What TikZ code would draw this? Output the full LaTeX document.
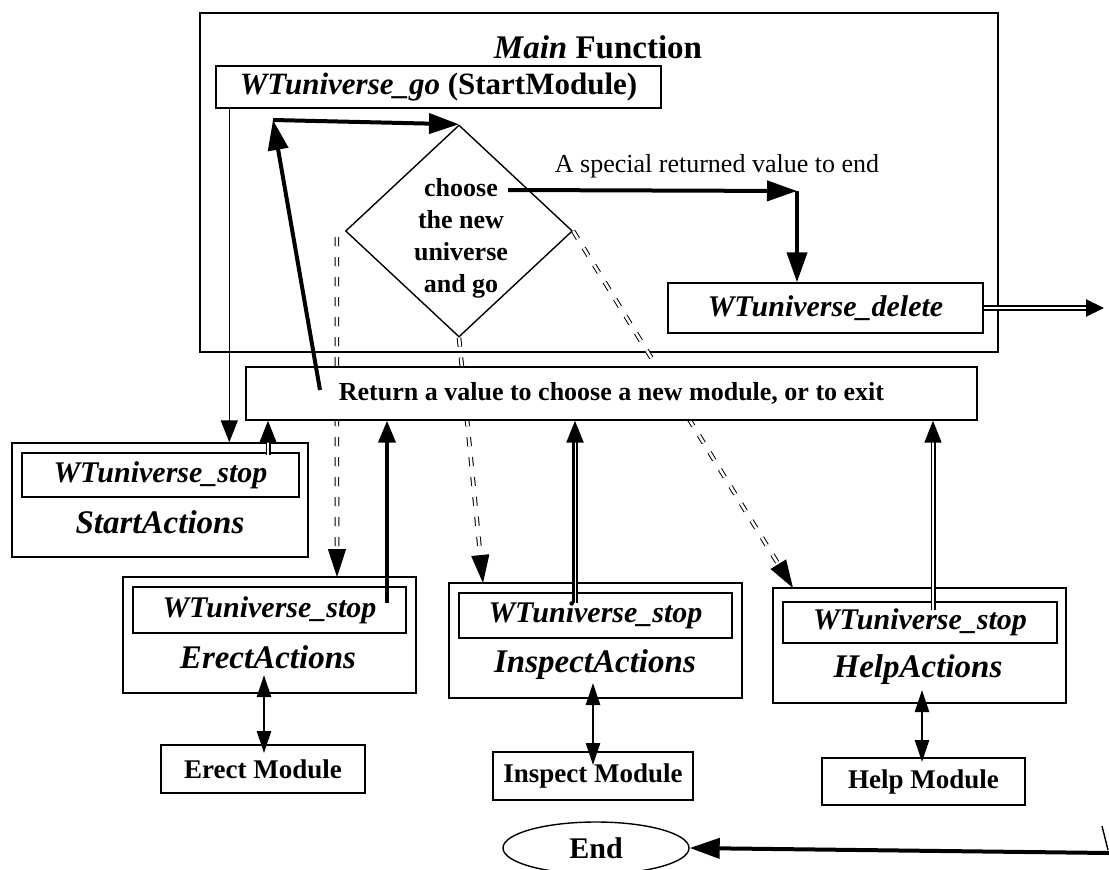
\documentclass[tikz,border=0pt]{standalone}
\usepackage{fontspec}
\setmainfont{Liberation Serif}
\usetikzlibrary{arrows.meta,shapes.geometric,calc}
\newcommand\fsz[2]{\fontsize{#1}{#2}\selectfont}
\begin{document}
\begin{tikzpicture}[x=1pt,y=-1pt,
  box/.style={draw, line width=1.4pt, inner sep=0pt, align=center},
  lbl/.style={inner sep=0pt, anchor=base},
  conn/.style={line width=1.4pt},
  thickconn/.style={line width=4pt},
  dbl/.style={double=white, double distance=1.8pt, line width=1.6pt},
  dashdbl/.style={double=white, double distance=2.6pt, line width=1pt, dash pattern=on 9pt off 11pt},
  tipS/.style={-{Triangle[length=22pt,width=17pt]}},
  tipD/.style={-{Triangle[length=28pt,width=18pt]}},
  tipL/.style={-{Triangle[length=30pt,width=20pt]}},
  tipB/.style={{Triangle[length=22pt,width=14pt]}-{Triangle[length=22pt,width=14pt]}},
  stopf/.style={font=\fsz{30}{34}\bfseries\itshape},
  actf/.style={font=\fsz{33}{36}\bfseries\itshape},
  modf/.style={font=\fsz{27}{30}\bfseries},
]
\useasboundingbox (0,0) rectangle (1109,870);

% Main function frame
\node[box, minimum width=798pt, minimum height=339pt] (main) at (599,182.5) {};
\node[lbl, font=\fsz{33}{36}\bfseries] (mainlbl) at (598,58) {\itshape Main \upshape Function};
\node[box, minimum width=445pt, minimum height=42pt, font=\fsz{31}{34}\bfseries] (go) at (438.5,87) {\itshape WTuniverse\_go\upshape{} (StartModule)};

% decision diamond
\node[draw, diamond, line width=1.4pt, minimum width=227pt, minimum height=212pt, inner sep=0pt] (dia) at (459,231) {};
\node[align=center, inner sep=0pt, font=\fsz{26}{32}\bfseries] (diatxt) at (461,238) {choose\\the new\\universe\\and go};

\node[lbl, font=\fsz{26}{30}] (spec) at (717,172) {A special returned value to end};
\node[box, minimum width=315pt, minimum height=50pt, font=\fsz{30}{34}\bfseries\itshape] (del) at (825.5,308) {WTuniverse\_delete};

% action boxes
\node[box, minimum width=296pt, minimum height=114pt] (stout) at (160,500) {};
\node[box, minimum width=277pt, minimum height=44pt, stopf] (stin) at (160.5,475) {WTuniverse\_stop};
\node[lbl, actf] (stlbl) at (160,533) {StartActions};

\node[box, minimum width=293pt, minimum height=116pt] (erout) at (269.5,635) {};
\node[box, minimum width=273pt, minimum height=46pt, stopf] (erin) at (269.5,610) {WTuniverse\_stop};
\node[lbl, actf] (erlbl) at (268,668) {ErectActions};

\node[box, minimum width=293pt, minimum height=115pt] (inout) at (595.5,640.5) {};
\node[box, minimum width=273pt, minimum height=45pt, stopf] (inin) at (595.5,615.5) {WTuniverse\_stop};
\node[lbl, actf] (inlbl) at (595,672) {InspectActions};

\node[box, minimum width=293pt, minimum height=115pt] (heout) at (919.5,645.5) {};
\node[box, minimum width=274pt, minimum height=41pt, stopf] (hein) at (920,622.5) {WTuniverse\_stop};
\node[lbl, actf] (helbl) at (918,677) {HelpActions};

% module boxes
\node[box, minimum width=204pt, minimum height=48pt, modf] (ermod) at (263,769) {Erect Module};
\node[box, minimum width=200pt, minimum height=48pt, modf] (inmod) at (593,776) {Inspect Module};
\node[box, minimum width=203pt, minimum height=47pt, modf] (hemod) at (923.5,781.5) {Help Module};

\node[draw, ellipse, line width=1.4pt, minimum width=186pt, minimum height=52pt, inner sep=0pt, font=\fsz{30}{34}\bfseries] (end) at (596,848) {End};

% dashed double connectors from the diamond
\coordinate (dl0) at ($(dia.west)+(-8,6)$);
\coordinate (dl1) at (337,577);
\draw[dashdbl, tipD] (dl0) -- (dl1);
\coordinate (dm1) at (483,583);
\draw[dashdbl, tipD] (dia.south) -- (dm1);
\coordinate (dr1) at (793,588);
\draw[dashdbl, tipD] (dia.east) -- (dr1);

% return box (covers the dashed lines)
\node[box, fill=white, minimum width=731pt, minimum height=53pt, font=\fsz{26}{30}\bfseries] (ret) at (611.5,393.5) {Return a value to choose a new module, or to exit};

% loop back to the diamond
\coordinate (rc) at (320,390);
\coordinate (corner) at (273,120);
\draw[thickconn, tipL] (rc) -- (corner);
\draw[thickconn, tipL] (corner) -- (dia.north);

% special value to end
\coordinate (cc) at (508,190);
\coordinate (turn) at (797,191);
\draw[thickconn, tipL] (cc) -- (turn);
\draw[thickconn, tipL] (turn) -- (turn |- del.north);
\coordinate (offR) at (1104,308);
\draw[double=white, double distance=1.4pt, line width=2.2pt, -{Triangle[length=18pt,width=17pt]}] (del.east) -- (offR);

% start module path
\coordinate (g0) at ($(go.south west)+(14,0)$);
\draw[conn, tipS] (g0) -- (g0 |- stout.north);
\coordinate (s0) at (268,455);
\draw[dbl, tipS] (s0) -- (s0 |- ret.south);

% returns to the return box
\coordinate (e0) at (387,603);
\draw[thickconn, tipS] (e0) -- (e0 |- ret.south);
\coordinate (i0) at (575,603);
\draw[double=white, double distance=0.7pt, line width=2.4pt, tipS] (i0) -- (i0 |- ret.south);
\coordinate (h0) at (933,610);
\draw[dbl, tipS] (h0) -- (h0 |- ret.south);

% action <-> module
\coordinate (ea) at (264,675); \coordinate (eb) at (264,753);
\draw[line width=2.6pt, tipB] (ea) -- (eb);
\coordinate (ia) at (593,683); \coordinate (ib) at (593,765);
\draw[line width=2.6pt, tipB] (ia) -- (ib);
\coordinate (ha) at (922,690); \coordinate (hb) at (922,762);
\draw[line width=2.6pt, tipB] (ha) -- (hb);

% back to End
\coordinate (endR) at (1109,853);
\draw[thickconn, tipL] (endR) -- (end.east);
\draw[conn] (1102,826) -- (1108,850);
\end{tikzpicture}
\end{document}
